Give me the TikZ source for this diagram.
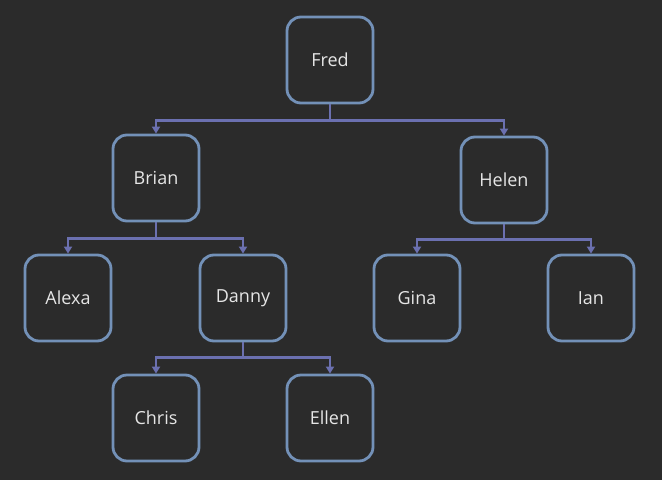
\documentclass[tikz,border=0pt]{standalone}
\usepackage{fontspec}
\setmainfont{Open Sans}
\usetikzlibrary{arrows.meta}
\definecolor{bgdark}{HTML}{2B2B2B}
\definecolor{boxline}{HTML}{7391B8}
\definecolor{linkline}{HTML}{6B70B0}
\definecolor{nametext}{HTML}{E6E6E6}
\tikzstyle{person}=[rectangle, rounded corners=14pt, draw=boxline, line width=2.8pt, fill=bgdark, minimum width=86pt, minimum height=86pt, text=nametext, font=\fontsize{18}{20}\selectfont]
\tikzstyle{link}=[draw=linkline, line width=2.6pt, -{Triangle[length=7pt,width=8pt]}]

\begin{document}
\begin{tikzpicture}[x=1pt, y=-1pt]
	\fill[bgdark] (0,0) rectangle (662,480);
	\draw (330,60) node[person] (fred) {Fred};
	\draw (156,178) node[person] (brian) {Brian};
	\draw (504,180) node[person] (helen) {Helen};
	\draw (68,298) node[person] (alexa) {Alexa};
	\draw (243,298) node[person] (danny) {Danny};
	\draw (417,298) node[person] (gina) {Gina};
	\draw (591,298) node[person] (ian) {Ian};
	\draw (156,418) node[person] (chris) {Chris};
	\draw (330,418) node[person] (ellen) {Ellen};
	\draw[link] (fred.south) -- ++(0,16) -| (brian.north);
	\draw[link] (fred.south) -- ++(0,16) -| (helen.north);
	\draw[link] (brian.south) -- ++(0,16) -| (alexa.north);
	\draw[link] (brian.south) -- ++(0,16) -| (danny.north);
	\draw[link] (helen.south) -- ++(0,15) -| (gina.north);
	\draw[link] (helen.south) -- ++(0,15) -| (ian.north);
	\draw[link] (danny.south) -- ++(0,15) -| (chris.north);
	\draw[link] (danny.south) -- ++(0,15) -| (ellen.north);
\end{tikzpicture}
\end{document}
